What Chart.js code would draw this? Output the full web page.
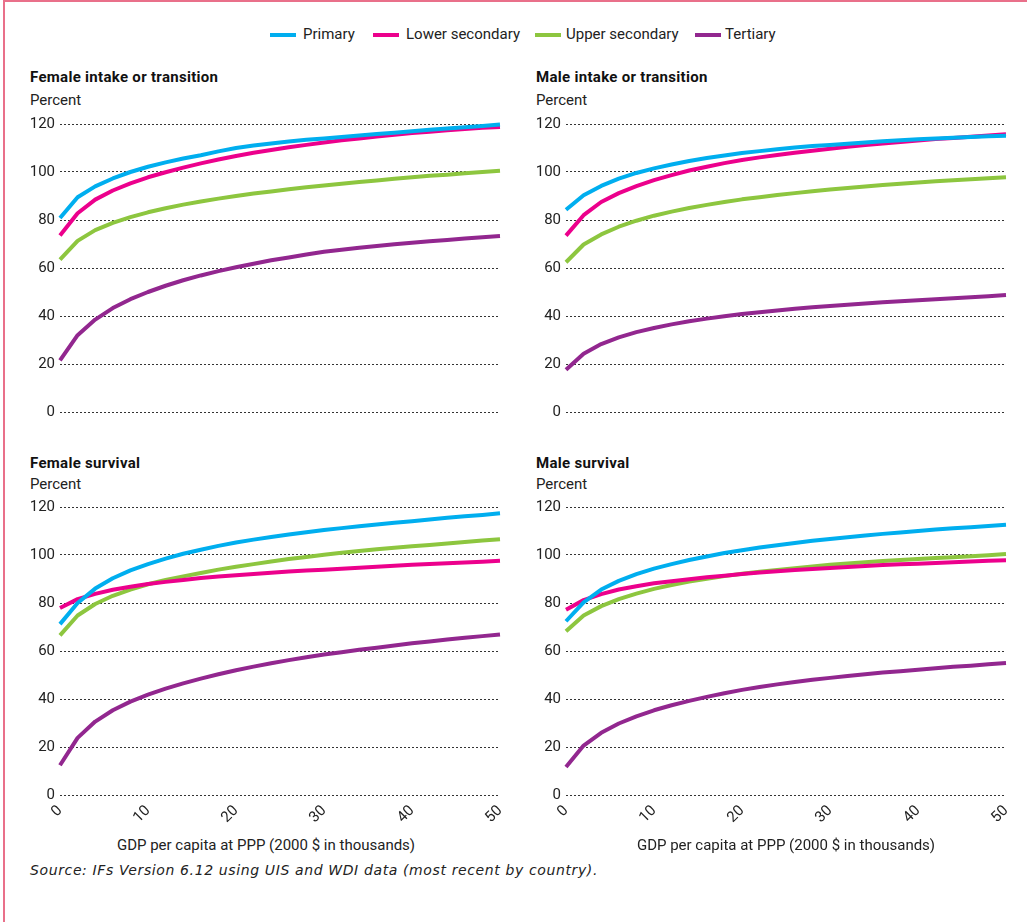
<!DOCTYPE html>
<html>
<head>
<meta charset="utf-8">
<script src="https://cdn.jsdelivr.net/npm/chart.js@4/dist/chart.umd.min.js"></script>
<style>
  html, body { margin: 0; padding: 0; background: #fff; }
  #page { position: relative; width: 1027px; height: 922px; overflow: hidden; background: #fff;
          font-family: Roboto, "Noto Sans", sans-serif; color: #222; }
  .frame-top { position: absolute; left: 3px; top: 0; width: 1024px; height: 2px; background: #e9708a; }
  .frame-left { position: absolute; left: 3px; top: 0; width: 2px; height: 922px; background: #e9708a; }
  .txt { position: absolute; white-space: nowrap; line-height: 18px; }
  .title { font-weight: 700; font-size: 15px; letter-spacing: 0.3px; color: #111; }
  .unit { font-size: 15px; }
  .xtitle { font-size: 15px; transform: translateX(-50%); }
  .legend-line { position: absolute; height: 4px; width: 26px; }
  .legend-text { font-size: 15px; }
  .source { font-family: "DejaVu Sans", sans-serif; font-style: italic; font-size: 14px; letter-spacing: 0.62px; color: #222; }
  canvas.panel { position: absolute; }
</style>
</head>
<body>
<div id="page">
  <div class="frame-top"></div>
  <div class="frame-left"></div>

  <!-- legend -->
  <div class="legend-line" style="left:270px; top:33px; background:#00aeef"></div>
  <div class="txt legend-text" style="left:303px; top:25px">Primary</div>
  <div class="legend-line" style="left:373px; top:33px; background:#ec008c"></div>
  <div class="txt legend-text" style="left:406px; top:25px">Lower secondary</div>
  <div class="legend-line" style="left:535px; top:33px; background:#8dc63f"></div>
  <div class="txt legend-text" style="left:566px; top:25px">Upper secondary</div>
  <div class="legend-line" style="left:695px; top:33px; background:#92278f"></div>
  <div class="txt legend-text" style="left:725px; top:25px">Tertiary</div>

  <!-- panel headings -->
  <div class="txt title" style="left:30px; top:68px">Female intake or transition</div>
  <div class="txt unit" style="left:30px; top:91px">Percent</div>
  <div class="txt title" style="left:536px; top:68px">Male intake or transition</div>
  <div class="txt unit" style="left:536px; top:91px">Percent</div>
  <div class="txt title" style="left:30px; top:454px">Female survival</div>
  <div class="txt unit" style="left:30px; top:475px">Percent</div>
  <div class="txt title" style="left:536px; top:454px">Male survival</div>
  <div class="txt unit" style="left:536px; top:475px">Percent</div>

  <canvas class="panel" id="femaleIntake" style="left:0px; top:110px"></canvas>
  <canvas class="panel" id="maleIntake" style="left:506px; top:110px"></canvas>
  <canvas class="panel" id="femaleSurvival" style="left:0px; top:494px"></canvas>
  <canvas class="panel" id="maleSurvival" style="left:506px; top:494px"></canvas>

  <div class="txt xtitle" style="left:266px; top:836px">GDP per capita at PPP (2000 $ in thousands)</div>
  <div class="txt xtitle" style="left:786px; top:836px">GDP per capita at PPP (2000 $ in thousands)</div>

  <div class="txt source" style="left:30px; top:861px">Source: IFs Version 6.12 using UIS and WDI data (most recent by country).</div>
</div>

<script>
// GDP per capita at PPP, 2000 $ in thousands
const gdpThousands = [0, 2, 4, 6, 8, 10, 12, 14, 16, 18, 20, 22, 24, 26, 28, 30, 32, 34, 36, 38, 40, 42, 44, 46, 48, 50];

const levelNames = ['Primary', 'Lower secondary', 'Upper secondary', 'Tertiary'];
const levelColors = ['#00aeef', '#ec008c', '#8dc63f', '#92278f'];
const xTickValues = [0, 10, 20, 30, 40, 50];
const yTickValues = [0, 20, 40, 60, 80, 100, 120];

// Female intake or transition (percent)
const femaleIntakePrimary = [80.8, 89.5, 94.0, 97.3, 100.0, 102.2, 104.0, 105.6, 107.0, 108.6, 110.0, 111.0, 111.9, 112.7, 113.4, 114.0, 114.6, 115.2, 115.8, 116.4, 117.0, 117.6, 118.1, 118.6, 119.2, 119.8];
const femaleIntakeLower   = [73.5, 82.8, 88.5, 92.3, 95.3, 97.8, 99.9, 101.8, 103.6, 105.2, 106.7, 108.0, 109.2, 110.3, 111.3, 112.3, 113.2, 114.0, 114.8, 115.5, 116.2, 116.8, 117.4, 117.9, 118.4, 118.8];
const femaleIntakeUpper   = [63.5, 71.3, 75.8, 78.8, 81.2, 83.2, 84.9, 86.4, 87.7, 88.9, 90.0, 91.0, 91.9, 92.8, 93.6, 94.4, 95.1, 95.8, 96.5, 97.2, 97.8, 98.4, 98.9, 99.5, 100.0, 100.5];
const femaleIntakeTertiary = [21.5, 32.0, 38.5, 43.3, 47.0, 50.0, 52.6, 54.9, 56.9, 58.7, 60.3, 61.8, 63.2, 64.4, 65.6, 66.8, 67.6, 68.4, 69.2, 69.9, 70.5, 71.1, 71.7, 72.3, 72.8, 73.3];

// Male intake or transition (percent)
const maleIntakePrimary = [84.3, 90.3, 94.2, 97.2, 99.6, 101.5, 103.1, 104.6, 105.8, 106.9, 107.9, 108.7, 109.5, 110.2, 110.8, 111.3, 111.8, 112.3, 112.8, 113.2, 113.6, 114.0, 114.3, 114.6, 114.9, 115.1];
const maleIntakeLower   = [73.5, 82.0, 87.5, 91.2, 94.1, 96.6, 98.7, 100.6, 102.2, 103.7, 105.0, 106.1, 107.1, 108.0, 108.9, 109.7, 110.5, 111.2, 111.9, 112.5, 113.1, 113.7, 114.2, 114.7, 115.2, 115.7];
const maleIntakeUpper   = [62.4, 69.8, 74.0, 77.2, 79.7, 81.8, 83.5, 85.0, 86.3, 87.5, 88.6, 89.5, 90.4, 91.2, 92.0, 92.7, 93.3, 94.0, 94.6, 95.1, 95.6, 96.1, 96.6, 97.0, 97.4, 97.8];
const maleIntakeTertiary = [17.6, 24.3, 28.3, 31.1, 33.3, 35.0, 36.5, 37.8, 38.9, 39.9, 40.8, 41.6, 42.3, 43.0, 43.6, 44.2, 44.7, 45.2, 45.7, 46.1, 46.6, 47.0, 47.4, 47.8, 48.2, 48.7];

// Female survival (percent)
const femaleSurvivalPrimary = [71.2, 80.0, 86.0, 90.3, 93.6, 96.2, 98.5, 100.5, 102.2, 103.8, 105.2, 106.4, 107.5, 108.5, 109.5, 110.4, 111.2, 112.0, 112.7, 113.4, 114.1, 114.8, 115.5, 116.1, 116.7, 117.4];
const femaleSurvivalLower   = [77.9, 81.6, 83.8, 85.5, 86.8, 87.9, 88.8, 89.6, 90.4, 91.0, 91.6, 92.1, 92.6, 93.1, 93.5, 93.9, 94.3, 94.7, 95.1, 95.5, 95.9, 96.3, 96.6, 96.9, 97.2, 97.6];
const femaleSurvivalUpper   = [66.5, 74.8, 79.6, 83.0, 85.6, 87.8, 89.6, 91.1, 92.5, 93.9, 95.1, 96.2, 97.3, 98.3, 99.2, 100.1, 100.9, 101.7, 102.4, 103.0, 103.6, 104.2, 104.8, 105.4, 106.0, 106.6];
const femaleSurvivalTertiary = [12.4, 23.8, 30.6, 35.3, 38.9, 41.8, 44.3, 46.5, 48.5, 50.3, 52.0, 53.5, 54.9, 56.2, 57.4, 58.5, 59.5, 60.5, 61.4, 62.3, 63.2, 64.0, 64.8, 65.5, 66.2, 66.9];

// Male survival (percent)
const maleSurvivalPrimary = [72.4, 80.3, 85.6, 89.2, 92.0, 94.3, 96.2, 97.9, 99.4, 100.8, 102.0, 103.1, 104.1, 105.0, 105.9, 106.7, 107.4, 108.1, 108.8, 109.4, 110.0, 110.6, 111.1, 111.6, 112.1, 112.6];
const maleSurvivalLower   = [77.2, 81.2, 83.7, 85.6, 87.0, 88.2, 89.1, 89.9, 90.7, 91.4, 92.1, 92.7, 93.2, 93.7, 94.2, 94.6, 95.0, 95.4, 95.8, 96.1, 96.4, 96.7, 97.0, 97.3, 97.6, 97.8];
const maleSurvivalUpper   = [68.2, 74.8, 78.7, 81.6, 83.9, 85.9, 87.5, 88.9, 90.1, 91.2, 92.2, 93.0, 93.8, 94.5, 95.2, 95.9, 96.5, 97.0, 97.5, 97.9, 98.3, 98.7, 99.1, 99.5, 99.9, 100.4];
const maleSurvivalTertiary = [11.7, 20.6, 25.9, 29.8, 32.8, 35.3, 37.4, 39.2, 40.9, 42.4, 43.8, 45.0, 46.1, 47.1, 48.0, 48.8, 49.6, 50.3, 51.0, 51.6, 52.2, 52.8, 53.4, 53.9, 54.5, 55.0];

Chart.defaults.font.family = 'Roboto, "Noto Sans", sans-serif';
Chart.defaults.font.size = 15;
Chart.defaults.color = '#222';

function toPoints(values) {
  return values.map((v, i) => ({ x: gdpThousands[i], y: v }));
}

function makePanel(canvasId, seriesList, withXAxis) {
  const canvas = document.getElementById(canvasId);
  const width = 510;
  const height = withXAxis ? 341 : 312;
  canvas.width = width;
  canvas.height = height;
  canvas.style.width = width + 'px';
  canvas.style.height = height + 'px';

  return new Chart(canvas, {
    type: 'line',
    data: {
      datasets: seriesList.map((values, i) => ({
        label: levelNames[i],
        data: toPoints(values),
        borderColor: levelColors[i],
        backgroundColor: levelColors[i],
        borderWidth: 4,
        pointRadius: 0,
        tension: 0,
        fill: false,
        clip: false,
        borderCapStyle: 'butt',
        borderJoinStyle: 'round'
      }))
    },
    options: {
      responsive: false,
      animation: false,
      devicePixelRatio: 1,
      layout: { padding: { left: 20, right: 10, top: withXAxis ? 13 : 14, bottom: withXAxis ? 0 : 10 } },
      plugins: { legend: { display: false }, tooltip: { enabled: false } },
      scales: {
        x: {
          type: 'linear',
          min: 0,
          max: 50,
          display: withXAxis,
          afterBuildTicks: s => { s.ticks = xTickValues.map(v => ({ value: v })); },
          afterFit: s => {
            if (withXAxis) { s.height = 40; }
            s.paddingLeft = 0;
            s.paddingRight = 0;
          },
          grid: { display: false, drawTicks: false },
          border: { display: false },
          ticks: { minRotation: 45, maxRotation: 45, padding: 7, color: '#222', font: { size: 15 } }
        },
        y: {
          min: 0,
          max: 120,
          afterBuildTicks: s => { s.ticks = yTickValues.map(v => ({ value: v })); },
          afterFit: s => { s.width = 40; s.paddingTop = 0; s.paddingBottom = 0; },
          grid: { color: '#333', lineWidth: 1, drawTicks: false },
          border: { display: false, dash: [2, 2] },
          ticks: { padding: 5, color: '#222', font: { size: 15 } }
        }
      }
    }
  });
}

makePanel('femaleIntake', [femaleIntakePrimary, femaleIntakeLower, femaleIntakeUpper, femaleIntakeTertiary], false);
makePanel('maleIntake', [maleIntakePrimary, maleIntakeLower, maleIntakeUpper, maleIntakeTertiary], false);
makePanel('femaleSurvival', [femaleSurvivalPrimary, femaleSurvivalLower, femaleSurvivalUpper, femaleSurvivalTertiary], true);
makePanel('maleSurvival', [maleSurvivalPrimary, maleSurvivalLower, maleSurvivalUpper, maleSurvivalTertiary], true);
</script>
</body>
</html>
